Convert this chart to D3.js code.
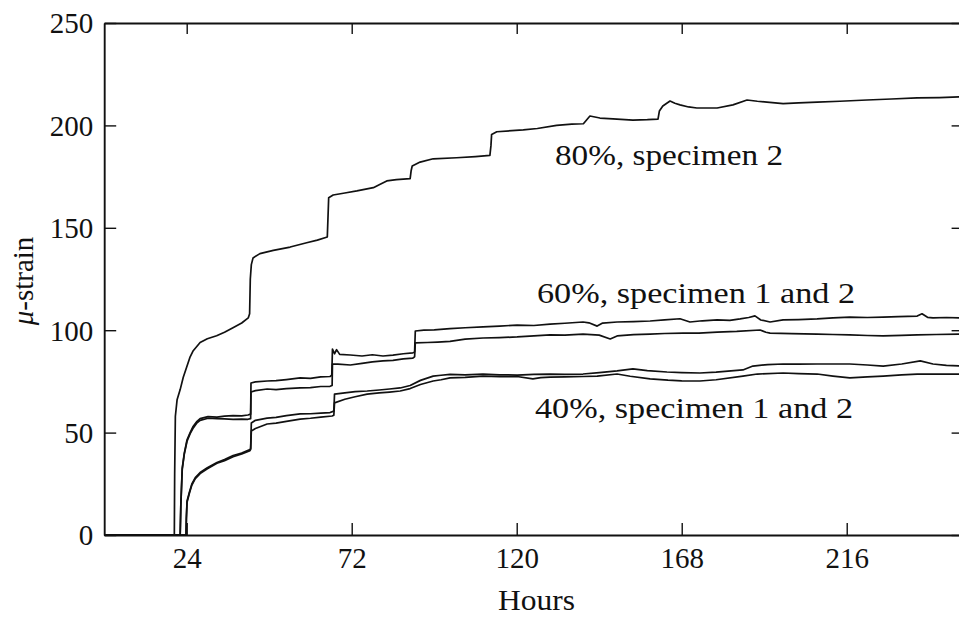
<!DOCTYPE html>
<html>
<head>
<meta charset="utf-8">
<script src="https://cdn.jsdelivr.net/npm/d3@7"></script>
<style>
  html, body { margin: 0; padding: 0; background: #fff; }
  svg { display: block; }
  text { font-family: "Liberation Serif", "Times New Roman", serif; fill: #111; }
</style>
</head>
<body>
<svg id="chart" width="959" height="623"></svg>
<script>
// Tick values
const hourTicks = [24, 72, 120, 168, 216];
const strainTicks = [0, 50, 100, 150, 200, 250];

// Creep strain records: [hours, micro-strain]
const load80Spec2 = [
  [0,0],[20.4,0],[20.5,30],[20.7,58],[21.2,66],[22.1,71],[23,77],[24,82],[25,87],[25.9,90],
  [27.9,94],[30,95.8],[32.7,97.3],[35,99],[37.6,101.3],[40,103.5],[41.9,106],[42.3,108],
  [42.5,125],[42.8,132],[43.3,135.3],[45.3,137.4],[49.2,139],[54.1,140.6],[58.9,142.7],
  [62,144],[64.9,145.5],[65.1,155],[65.3,164.7],[66.6,166],[70,167],[73.5,168],[78.3,169.6],
  [80,171],[82.2,172.9],[85,173.5],[89,174],[89.3,178],[89.6,180.2],[91.9,182.1],[95.7,183.7],
  [102.5,184.2],[108,184.8],[112.2,185.4],[112.5,190],[112.7,195.6],[114.2,196.9],[121.9,197.8],
  [126,198.5],[131.6,200],[136,200.6],[139.4,200.8],[140.5,203],[141.3,204.6],[144.2,203.6],
  [148,203.2],[153.8,202.6],[158,202.8],[161.1,203.1],[161.5,207],[162.5,209.5],[164.6,211.9],
  [166,210.8],[167.5,210],[170,209],[172.4,208.5],[178.3,208.5],[182.9,210],[187,212.4],
  [190,211.8],[192.8,211.4],[197.5,210.6],[202,211],[207.4,211.4],[214,211.8],[221.9,212.4],
  [229,212.9],[236.5,213.4],[243,213.6],[250,214]
];

const load60Spec1 = [
  [0,0],[22.1,0],[22.3,15],[22.7,32.7],[23.3,40],[24.1,46.5],[25,50],[25.8,52.8],[27,55.5],
  [27.9,56.8],[30.2,57.8],[32.8,57.6],[35,58],[37.5,58.3],[40,58.2],[41.8,58.6],[42.6,59],
  [42.7,74.2],[44,74.8],[47.4,75.2],[50,75.4],[53,75.9],[57,76.7],[60,76.5],[63,77.2],
  [65.7,77.4],[66.2,78],[66.4,90.8],[67,88.5],[67.6,90.5],[68.5,88.2],[71.6,87.9],[75,87.4],
  [78,88],[81.1,87.4],[84,87.8],[87,88.5],[89.8,88.9],[90.3,89.5],[90.5,99.6],[93,100],
  [96,100.2],[100.6,100.8],[105,101.2],[110.2,101.6],[115,102],[120.1,102.5],[125,102.3],
  [129.7,103],[134,103.4],[139.3,104],[141,103.6],[143.4,102],[145,103.5],[149.2,104],
  [154,104.2],[158.8,104.5],[163,105],[167.5,105.6],[170.4,104],[174,104.6],[178.3,105],
  [182,104.8],[185,105.5],[187.5,106.2],[189.3,107],[191,105],[193.7,104],[197.5,105],
  [202,105.2],[207.4,105.5],[212,106],[216.9,106.4],[222,106.2],[226.6,106.4],[231,106.6],
  [236.5,106.9],[237.9,108],[239.5,106.3],[241.1,106],[245,106.2],[250,106]
];

const load60Spec2 = [
  [0,0],[22.1,0],[22.3,15],[22.7,32],[23.3,39.5],[24.1,45.8],[25,49.5],[25.8,52],[27,54.8],
  [27.9,56],[30.2,57],[32.8,56.8],[35,56.7],[37.5,56.5],[40,56.6],[41.8,56.5],[42.6,56.8],
  [42.7,69.8],[44,70.5],[47.4,71.3],[50,71],[53,71.5],[57,71.8],[60,72],[63,72.5],[65.7,72.6],
  [66.3,73],[66.4,83.5],[68,83.4],[71.6,83],[75,83.8],[78,84.5],[81.1,85],[84,85.3],[87,86],
  [89.8,86.4],[90.3,87],[90.5,93.8],[94,94],[97,94.2],[100.6,94.5],[105,95.6],[110.2,96.2],
  [115,96.4],[120.1,96.7],[125,97.2],[129.7,97.7],[134,97.6],[139.3,98.1],[144,97.6],
  [147.2,95.7],[149.2,97.2],[154,97.8],[158.8,98.1],[163,98.4],[168.4,98.6],[173,98.6],
  [178.3,99.1],[184,99.4],[190.8,100.1],[192.5,99],[193.7,98.6],[200,98.3],[207.4,98.1],
  [212,97.9],[216.9,97.7],[222,97.4],[226.6,97.2],[232,97.5],[236.5,97.7],[242,97.9],[250,98.1]
];

const load40Spec1 = [
  [0,0],[23.8,0],[23.9,8],[24.1,16.6],[24.8,21],[25.5,24.9],[26.5,28],[27.9,30.5],[30,32.8],
  [32.8,35.4],[35,36.8],[37.5,38.8],[40,40],[42.4,41.7],[42.6,42.2],[42.8,54.7],[44,56],
  [47.4,57.1],[50,57.4],[53,58.3],[57,59.1],[60,59.2],[63,59.5],[65.7,59.8],[66.8,60.5],
  [67,68.8],[70,69.4],[73,70],[76.5,70.3],[80,70.8],[83,71.3],[86.1,71.8],[89,73],[92,75.5],
  [95.7,77.6],[98,78],[100.6,78.4],[105,78.2],[110.2,78.6],[115,78.2],[120.1,78.1],[125,78.4],
  [129.7,78.6],[134,78.4],[139.3,78.6],[144,79.3],[149.2,80.1],[153.8,81.1],[158,80.3],
  [163.7,79.6],[168,79.3],[173.3,79.1],[178,79.5],[185.8,80.6],[188.7,82.5],[193,83.2],
  [197.5,83.5],[202,83.4],[207.4,83.5],[212,83.5],[216.9,83.5],[222,83],[226.6,82.5],
  [232,83.5],[237.4,85],[241.1,83.5],[245,82.8],[250,82.5]
];

const load40Spec2 = [
  [0,0],[23.8,0],[23.9,8],[24.1,16],[24.8,20.5],[25.5,24.4],[26.5,27.5],[27.9,30],[30,32.3],
  [32.8,35],[35,36.3],[37.5,38.2],[40,39.6],[42.4,41.2],[42.6,41.8],[42.8,50.8],[44,52],
  [47.4,54.2],[50,54.6],[53,55.5],[57,56.6],[60,57],[63,57.6],[66.3,58.1],[66.8,58.5],
  [67,64.5],[70,66.3],[73,67.5],[76.5,68.8],[80,69.4],[83,69.8],[86.1,70.3],[89,71.5],
  [92,73.5],[95.7,75.2],[98,75.8],[100.6,76.7],[105,77],[110.2,77.6],[115,77.3],[120.1,77.4],
  [124.7,76.2],[127,76.8],[129.7,77.1],[134,77.2],[139.3,77.4],[143.4,77.6],[149.2,78.6],
  [153,77.5],[158.8,76.2],[164,75.6],[168,75.3],[173.3,75.2],[178,75.8],[185.8,77.6],
  [190,78.6],[197.5,79.1],[202,78.8],[207.4,78.6],[212,77.6],[216.9,76.7],[222,77.2],
  [226.6,77.6],[232,78.2],[236.5,78.6],[242,78.6],[250,78.6]
];

const seriesList = [load80Spec2, load60Spec1, load60Spec2, load40Spec1, load40Spec2];
const curveLabels = ["80%, specimen 2", "60%, specimen 1 and 2", "40%, specimen 1 and 2"];

// ---- layout ----
const svg = d3.select("#chart");
const plotLeft = 104.2, plotRight = 963.6, plotTop = 23, plotBottom = 535;

const x = d3.scaleLinear().domain([0, 250]).range([plotLeft, plotRight]);
const y = d3.scaleLinear().domain([0, 250]).range([plotBottom, plotTop]);

const ink = "#111";

// frame with inward ticks on all four sides
function styleAxis(g) {
  g.select(".domain").attr("stroke", ink).attr("stroke-width", 1.9);
  g.selectAll(".tick line").attr("stroke", ink).attr("stroke-width", 1.4);
}

svg.append("g")
  .attr("transform", `translate(0,${plotBottom})`)
  .call(d3.axisBottom(x).tickValues(hourTicks).tickSizeInner(-12).tickSizeOuter(0).tickPadding(0))
  .call(styleAxis)
  .call(g => g.selectAll(".tick text")
    .attr("y", 33).attr("dy", null)
    .style("font-size", "29px").attr("fill", ink));

svg.append("g")
  .attr("transform", `translate(0,${plotTop})`)
  .call(d3.axisTop(x).tickValues(hourTicks).tickSizeInner(-11).tickSizeOuter(0).tickFormat(""))
  .call(styleAxis);

svg.append("g")
  .attr("transform", `translate(${plotLeft},0)`)
  .call(d3.axisLeft(y).tickValues(strainTicks).tickSizeInner(-12).tickSizeOuter(0).tickPadding(0))
  .call(styleAxis)
  .call(g => g.selectAll(".tick text")
    .attr("x", -11).attr("dy", "0.34em")
    .style("font-size", "29px").attr("fill", ink));

svg.append("g")
  .attr("transform", `translate(${plotRight},0)`)
  .call(d3.axisRight(y).tickValues(strainTicks).tickSizeInner(-12).tickSizeOuter(0).tickFormat(""))
  .call(styleAxis);

// strain curves
const line = d3.line().x(d => x(d[0])).y(d => y(d[1]));
svg.append("g")
  .selectAll("path")
  .data(seriesList)
  .join("path")
  .attr("d", line)
  .attr("fill", "none")
  .attr("stroke", ink)
  .attr("stroke-width", 1.7)
  .attr("stroke-linejoin", "round");

// curve annotations
const annot = svg.append("g").style("font-size", "29px");
annot.append("text").attr("x", 555).attr("y", 165)
  .attr("textLength", 228).attr("lengthAdjust", "spacingAndGlyphs").text(curveLabels[0]);
annot.append("text").attr("x", 537).attr("y", 303)
  .attr("textLength", 318).attr("lengthAdjust", "spacingAndGlyphs").text(curveLabels[1]);
annot.append("text").attr("x", 535).attr("y", 418)
  .attr("textLength", 318).attr("lengthAdjust", "spacingAndGlyphs").text(curveLabels[2]);

// axis titles
svg.append("text")
  .attr("x", 498).attr("y", 610)
  .attr("textLength", 77).attr("lengthAdjust", "spacingAndGlyphs")
  .style("font-size", "29px")
  .text("Hours");

const yTitle = svg.append("text")
  .attr("transform", "translate(33,281) rotate(-90)")
  .attr("text-anchor", "middle")
  .style("font-size", "29px");
yTitle.append("tspan").style("font-style", "italic").text("μ");
yTitle.append("tspan").text("-strain");
</script>
</body>
</html>
